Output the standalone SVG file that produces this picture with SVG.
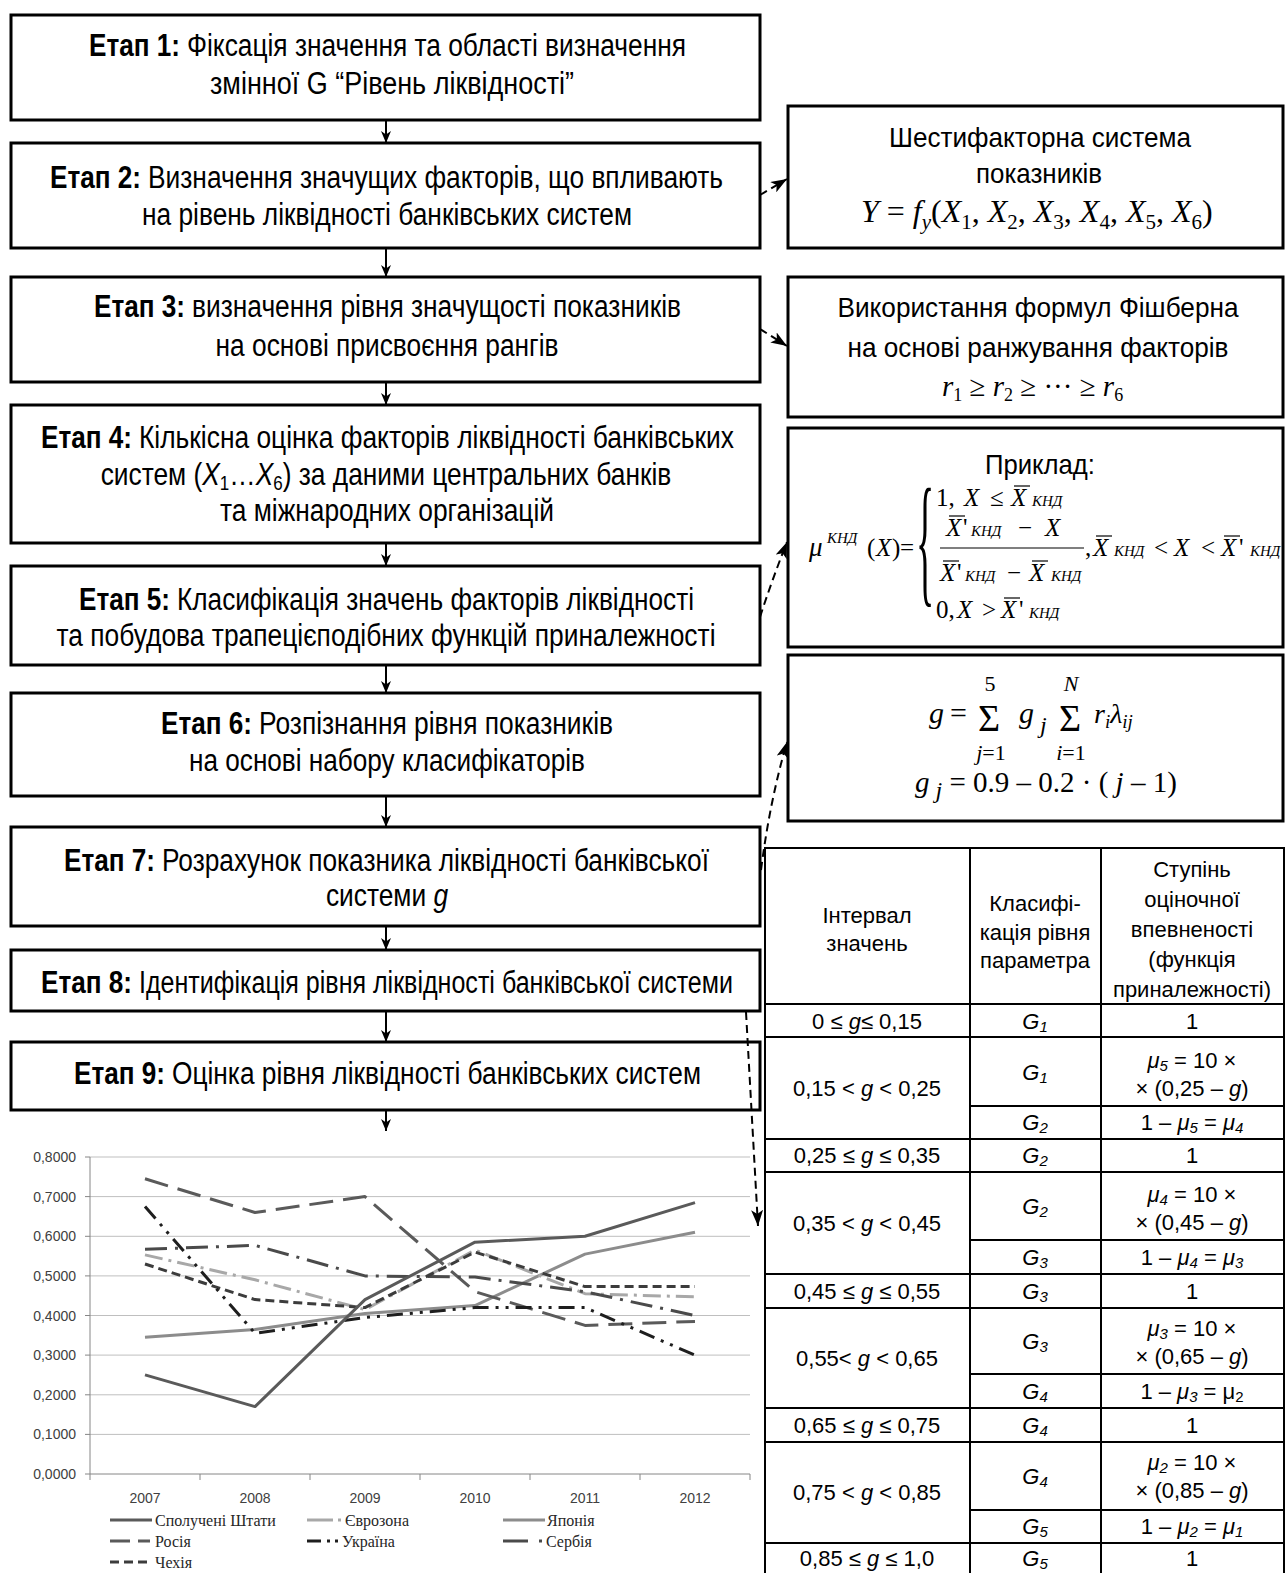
<svg xmlns="http://www.w3.org/2000/svg" width="1288" height="1573" viewBox="0 0 1288 1573">
<defs>
<style>
.box{fill:#fff;stroke:#000;stroke-width:3}
.st{font-family:"Liberation Sans",Arial,sans-serif;font-size:31px;fill:#000}
.sc{text-anchor:middle}
.rt{font-family:"Liberation Sans",Arial,sans-serif;font-size:28px;fill:#000;text-anchor:middle}
.tb{font-family:"Liberation Sans",Arial,sans-serif;font-size:22px;fill:#000;text-anchor:middle}
.m{font-family:"Liberation Serif","Times New Roman",serif;fill:#000}
.b{font-weight:bold}
.i{font-style:italic}
.flow{stroke:#000;stroke-width:2;fill:none;marker-end:url(#ah)}
.dl{stroke:#000;stroke-width:2;fill:none;stroke-dasharray:8 5;marker-end:url(#ahd)}
.grid{stroke:#bfbfbf;stroke-width:1}
.ax{stroke:#868686;stroke-width:1;fill:none}
.al{font-family:"Liberation Sans",Arial,sans-serif;font-size:14px;fill:#404040}
.lg{font-family:"Liberation Serif","Times New Roman",serif;font-size:16px;fill:#262626}
.ser{fill:none;stroke-width:3;stroke-linejoin:round}
.tl{stroke:#000;stroke-width:2}
.ob{stroke:#000;stroke-width:1.2}
</style>
<marker id="ah" markerUnits="userSpaceOnUse" viewBox="0 0 12 10" markerWidth="12" markerHeight="10" refX="12" refY="5" orient="auto"><path d="M0,0 L12,5 L0,10 L3.5,5 z" fill="#000"/></marker>
<marker id="ahd" markerUnits="userSpaceOnUse" viewBox="0 0 16 12" markerWidth="16" markerHeight="12" refX="16" refY="6" orient="auto"><path d="M0,0 L16,6 L0,12 L4,6 z" fill="#000"/></marker>
</defs>
<rect width="1288" height="1573" fill="#fff"/>

<g id="stage1"><rect class="box" x="11" y="15" width="749" height="105"/>
<text class="st b" x="89" y="56" textLength="91" lengthAdjust="spacingAndGlyphs">Етап 1:</text>
<text class="st" x="187" y="56" textLength="499" lengthAdjust="spacingAndGlyphs">Фіксація значення та області визначення</text>
<text class="st sc" x="392" y="94" textLength="364" lengthAdjust="spacingAndGlyphs">змінної G “Рівень ліквідності”</text></g>

<g id="stage2"><rect class="box" x="11" y="143" width="749" height="105"/>
<text class="st b" x="50" y="188" textLength="91" lengthAdjust="spacingAndGlyphs">Етап 2:</text>
<text class="st" x="148" y="188" textLength="575" lengthAdjust="spacingAndGlyphs">Визначення значущих факторів, що впливають</text>
<text class="st sc" x="387" y="225" textLength="490" lengthAdjust="spacingAndGlyphs">на рівень ліквідності банківських систем</text></g>

<g id="stage3"><rect class="box" x="11" y="277" width="749" height="105"/>
<text class="st b" x="94" y="317" textLength="91" lengthAdjust="spacingAndGlyphs">Етап 3:</text>
<text class="st" x="192" y="317" textLength="489" lengthAdjust="spacingAndGlyphs">визначення рівня значущості показників</text>
<text class="st sc" x="387" y="356" textLength="343" lengthAdjust="spacingAndGlyphs">на основі присвоєння рангів</text></g>

<g id="stage4"><rect class="box" x="11" y="405" width="749" height="138"/>
<text class="st b" x="41" y="448" textLength="91" lengthAdjust="spacingAndGlyphs">Етап 4:</text>
<text class="st" x="139" y="448" textLength="595" lengthAdjust="spacingAndGlyphs">Кількісна оцінка факторів ліквідності банківських</text>
<text class="st sc" transform="translate(386,485) scale(0.85,1)">систем (<tspan class="i">X</tspan><tspan font-size="20" dy="5">1</tspan><tspan dy="-5">…</tspan><tspan class="i">X</tspan><tspan font-size="20" dy="5">6</tspan><tspan dy="-5">) за даними центральних банків</tspan></text>
<text class="st sc" x="387" y="521" textLength="334" lengthAdjust="spacingAndGlyphs">та міжнародних організацій</text></g>

<g id="stage5"><rect class="box" x="11" y="566" width="749" height="99"/>
<text class="st b" x="79" y="610" textLength="91" lengthAdjust="spacingAndGlyphs">Етап 5:</text>
<text class="st" x="177" y="610" textLength="517" lengthAdjust="spacingAndGlyphs">Класифікація значень факторів ліквідності</text>
<text class="st sc" x="386" y="646" textLength="659" lengthAdjust="spacingAndGlyphs">та побудова трапецієподібних функцій приналежності</text></g>

<g id="stage6"><rect class="box" x="11" y="693" width="749" height="103"/>
<text class="st b" x="161" y="734" textLength="91" lengthAdjust="spacingAndGlyphs">Етап 6:</text>
<text class="st" x="259" y="734" textLength="354" lengthAdjust="spacingAndGlyphs">Розпізнання рівня показників</text>
<text class="st sc" x="387" y="771" textLength="396" lengthAdjust="spacingAndGlyphs">на основі набору класифікаторів</text></g>

<g id="stage7"><rect class="box" x="11" y="827" width="749" height="99"/>
<text class="st b" x="64" y="871" textLength="91" lengthAdjust="spacingAndGlyphs">Етап 7:</text>
<text class="st" x="162" y="871" textLength="547" lengthAdjust="spacingAndGlyphs">Розрахунок показника ліквідності банківської</text>
<text class="st sc" transform="translate(387,906) scale(0.85,1)">системи <tspan class="i">g</tspan></text></g>

<g id="stage8"><rect class="box" x="11" y="950" width="749" height="61"/>
<text class="st b" x="41" y="993" textLength="91" lengthAdjust="spacingAndGlyphs">Етап 8:</text>
<text class="st" x="139" y="993" textLength="594" lengthAdjust="spacingAndGlyphs">Ідентифікація рівня ліквідності банківської системи</text></g>

<g id="stage9"><rect class="box" x="11" y="1042" width="749" height="68"/>
<text class="st b" x="74" y="1084" textLength="91" lengthAdjust="spacingAndGlyphs">Етап 9:</text>
<text class="st" x="172" y="1084" textLength="529" lengthAdjust="spacingAndGlyphs">Оцінка рівня ліквідності банківських систем</text></g>

<g id="box-factors"><rect class="box" x="788" y="106" width="495" height="142"/>
<text class="rt" x="1040" y="147" textLength="302" lengthAdjust="spacingAndGlyphs">Шестифакторна система</text>
<text class="rt" x="1039" y="183" textLength="126" lengthAdjust="spacingAndGlyphs">показників</text>
<text class="m" x="861" y="222" font-size="32"><tspan class="i">Y</tspan> = <tspan class="i">f</tspan><tspan class="i" font-size="21" dy="7">y</tspan><tspan dy="-7">(</tspan><tspan class="i">X</tspan><tspan font-size="21" dy="7">1</tspan><tspan dy="-7">, </tspan><tspan class="i">X</tspan><tspan font-size="21" dy="7">2</tspan><tspan dy="-7">, </tspan><tspan class="i">X</tspan><tspan font-size="21" dy="7">3</tspan><tspan dy="-7">, </tspan><tspan class="i">X</tspan><tspan font-size="21" dy="7">4</tspan><tspan dy="-7">, </tspan><tspan class="i">X</tspan><tspan font-size="21" dy="7">5</tspan><tspan dy="-7">, </tspan><tspan class="i">X</tspan><tspan font-size="21" dy="7">6</tspan><tspan dy="-7">)</tspan></text></g>

<g id="box-fishburn"><rect class="box" x="788" y="277" width="495" height="140"/>
<text class="rt" x="1038" y="317" textLength="401" lengthAdjust="spacingAndGlyphs">Використання формул Фішберна</text>
<text class="rt" x="1038" y="357" textLength="381" lengthAdjust="spacingAndGlyphs">на основі ранжування факторів</text>
<text class="m" x="942" y="396" font-size="29" fill="#333"><tspan class="i">r</tspan><tspan font-size="18" dy="5">1</tspan><tspan dy="-5"> ≥ </tspan><tspan class="i">r</tspan><tspan font-size="18" dy="5">2</tspan><tspan dy="-5"> ≥ ··· ≥ </tspan><tspan class="i">r</tspan><tspan font-size="18" dy="5">6</tspan></text></g>

<g id="box-example"><rect class="box" x="788" y="428" width="495" height="219"/>
<text class="rt" x="1040" y="474" textLength="110" lengthAdjust="spacingAndGlyphs">Приклад:</text>
<text class="m i" x="809" y="556" font-size="27">μ</text>
<text class="m i" x="827" y="543" font-size="15">КНД</text>
<text class="m" font-size="25" y="556"><tspan x="867">(</tspan><tspan x="876" class="i">X</tspan><tspan x="892">)</tspan><tspan x="900">=</tspan></text>
<text class="m" x="0" y="0" font-size="38" transform="translate(916,588) scale(1,3.8)">{</text>
<text class="m" font-size="25" y="506"><tspan x="936">1,</tspan><tspan x="964" class="i">X</tspan><tspan x="990">≤</tspan><tspan x="1011" class="i">X</tspan><tspan x="1032" class="i" font-size="15">КНД</tspan></text>
<line class="ob" x1="1014" y1="486" x2="1030" y2="486"/>
<text class="m" font-size="25" y="536"><tspan x="946" class="i">X</tspan><tspan x="963">'</tspan><tspan x="971" class="i" font-size="15">КНД</tspan><tspan x="1018">−</tspan><tspan x="1045" class="i">X</tspan></text>
<line class="ob" x1="949" y1="516" x2="965" y2="516"/>
<line class="ob" x1="940" y1="548" x2="1084" y2="548"/>
<text class="m" font-size="25" y="581"><tspan x="940" class="i">X</tspan><tspan x="957">'</tspan><tspan x="965" class="i" font-size="15">КНД</tspan><tspan x="1007">−</tspan><tspan x="1029" class="i">X</tspan><tspan x="1051" class="i" font-size="15">КНД</tspan></text>
<line class="ob" x1="943" y1="561" x2="959" y2="561"/>
<line class="ob" x1="1032" y1="561" x2="1048" y2="561"/>
<text class="m" font-size="25" y="556"><tspan x="1085">,</tspan><tspan x="1093" class="i">X</tspan><tspan x="1114" class="i" font-size="15">КНД</tspan><tspan x="1154">&lt;</tspan><tspan x="1174" class="i">X</tspan><tspan x="1201">&lt;</tspan><tspan x="1221" class="i">X</tspan><tspan x="1239">'</tspan><tspan x="1250" class="i" font-size="15">КНД</tspan></text>
<line class="ob" x1="1096" y1="536" x2="1112" y2="536"/>
<line class="ob" x1="1224" y1="536" x2="1240" y2="536"/>
<text class="m" font-size="25" y="618"><tspan x="936">0,</tspan><tspan x="957" class="i">X</tspan><tspan x="982">&gt;</tspan><tspan x="1001" class="i">X</tspan><tspan x="1019">'</tspan><tspan x="1029" class="i" font-size="15">КНД</tspan></text>
<line class="ob" x1="1004" y1="598" x2="1020" y2="598"/></g>

<g id="box-formula"><rect class="box" x="788" y="655" width="495" height="166"/>
<text class="m i" x="929" y="723" font-size="30">g</text>
<text class="m" x="950" y="723" font-size="30">=</text>
<text class="m" x="978" y="731" font-size="38">Σ</text>
<text class="m" x="990" y="691" font-size="22" text-anchor="middle">5</text>
<text class="m" x="991" y="760" font-size="22" text-anchor="middle"><tspan class="i">j</tspan>=1</text>
<text class="m i" x="1019" y="723" font-size="30">g</text>
<text class="m i" x="1040" y="733" font-size="24">j</text>
<text class="m" x="1059" y="731" font-size="38">Σ</text>
<text class="m i" x="1071" y="691" font-size="22" text-anchor="middle">N</text>
<text class="m" x="1071" y="760" font-size="22" text-anchor="middle"><tspan class="i">i</tspan>=1</text>
<text class="m i" x="1094" y="723" font-size="28">r<tspan font-size="19" dy="5">i</tspan><tspan dy="-5">λ</tspan><tspan font-size="19" dy="5">ij</tspan></text>
<text class="m" x="915" y="792" font-size="29"><tspan class="i">g</tspan><tspan class="i" font-size="24" dy="6"> j</tspan><tspan dy="-6"> = 0.9 – 0.2 · (</tspan><tspan class="i"> j</tspan> – 1)</text></g>

<g id="table">
<rect x="765" y="848" width="519" height="730" fill="#fff" stroke="#000" stroke-width="2"/>
<line class="tl" x1="970" y1="848" x2="970" y2="1578"/>
<line class="tl" x1="1101" y1="848" x2="1101" y2="1578"/>
<line class="tl" x1="765" y1="1004" x2="1284" y2="1004"/>
<line class="tl" x1="765" y1="1037" x2="1284" y2="1037"/>
<line class="tl" x1="970" y1="1106" x2="1284" y2="1106"/>
<line class="tl" x1="765" y1="1139" x2="1284" y2="1139"/>
<line class="tl" x1="765" y1="1172" x2="1284" y2="1172"/>
<line class="tl" x1="970" y1="1240" x2="1284" y2="1240"/>
<line class="tl" x1="765" y1="1274" x2="1284" y2="1274"/>
<line class="tl" x1="765" y1="1308" x2="1284" y2="1308"/>
<line class="tl" x1="970" y1="1374" x2="1284" y2="1374"/>
<line class="tl" x1="765" y1="1408" x2="1284" y2="1408"/>
<line class="tl" x1="765" y1="1442" x2="1284" y2="1442"/>
<line class="tl" x1="970" y1="1510" x2="1284" y2="1510"/>
<line class="tl" x1="765" y1="1543" x2="1284" y2="1543"/>
<text class="tb" x="867" y="923">Інтервал</text>
<text class="tb" x="867" y="951">значень</text>
<text class="tb" x="1035" y="911">Класифі-</text>
<text class="tb" x="1035" y="940">кація рівня</text>
<text class="tb" x="1035" y="968">параметра</text>
<text class="tb" x="1192" y="877">Ступінь</text>
<text class="tb" x="1192" y="907">оціночної</text>
<text class="tb" x="1192" y="937">впевненості</text>
<text class="tb" x="1192" y="967">(функція</text>
<text class="tb" x="1192" y="997">приналежності)</text>

<text class="tb" x="867" y="1029">0 ≤ <tspan class="i">g</tspan>≤ 0,15</text>
<text class="tb i" x="1035" y="1029">G<tspan font-size="15" dy="3">1</tspan></text>
<text class="tb" x="1192" y="1029">1</text>

<text class="tb" x="867" y="1096">0,15 &lt; <tspan class="i">g</tspan> &lt; 0,25</text>
<text class="tb i" x="1035" y="1080">G<tspan font-size="15" dy="3">1</tspan></text>
<text class="tb" x="1192" y="1068"><tspan class="i">μ</tspan><tspan class="i" font-size="15" dy="3">5</tspan><tspan dy="-3"> = 10 ×</tspan></text>
<text class="tb" x="1192" y="1096">× (0,25 – <tspan class="i">g</tspan>)</text>
<text class="tb i" x="1035" y="1130">G<tspan font-size="15" dy="3">2</tspan></text>
<text class="tb" x="1192" y="1130">1 – <tspan class="i">μ</tspan><tspan class="i" font-size="15" dy="3">5</tspan><tspan dy="-3"> = </tspan><tspan class="i">μ</tspan><tspan class="i" font-size="15" dy="3">4</tspan></text>

<text class="tb" x="867" y="1163">0,25 ≤ <tspan class="i">g</tspan> ≤ 0,35</text>
<text class="tb i" x="1035" y="1163">G<tspan font-size="15" dy="3">2</tspan></text>
<text class="tb" x="1192" y="1163">1</text>

<text class="tb" x="867" y="1231">0,35 &lt; <tspan class="i">g</tspan> &lt; 0,45</text>
<text class="tb i" x="1035" y="1214">G<tspan font-size="15" dy="3">2</tspan></text>
<text class="tb" x="1192" y="1202"><tspan class="i">μ</tspan><tspan class="i" font-size="15" dy="3">4</tspan><tspan dy="-3"> = 10 ×</tspan></text>
<text class="tb" x="1192" y="1230">× (0,45 – <tspan class="i">g</tspan>)</text>
<text class="tb i" x="1035" y="1265">G<tspan font-size="15" dy="3">3</tspan></text>
<text class="tb" x="1192" y="1265">1 – <tspan class="i">μ</tspan><tspan class="i" font-size="15" dy="3">4</tspan><tspan dy="-3"> = </tspan><tspan class="i">μ</tspan><tspan class="i" font-size="15" dy="3">3</tspan></text>

<text class="tb" x="867" y="1299">0,45 ≤ <tspan class="i">g</tspan> ≤ 0,55</text>
<text class="tb i" x="1035" y="1299">G<tspan font-size="15" dy="3">3</tspan></text>
<text class="tb" x="1192" y="1299">1</text>

<text class="tb" x="867" y="1366">0,55&lt; <tspan class="i">g</tspan> &lt; 0,65</text>
<text class="tb i" x="1035" y="1349">G<tspan font-size="15" dy="3">3</tspan></text>
<text class="tb" x="1192" y="1336"><tspan class="i">μ</tspan><tspan class="i" font-size="15" dy="3">3</tspan><tspan dy="-3"> = 10 ×</tspan></text>
<text class="tb" x="1192" y="1364">× (0,65 – <tspan class="i">g</tspan>)</text>
<text class="tb i" x="1035" y="1399">G<tspan font-size="15" dy="3">4</tspan></text>
<text class="tb" x="1192" y="1399">1 – <tspan class="i">μ</tspan><tspan class="i" font-size="15" dy="3">3</tspan><tspan dy="-3"> = μ</tspan><tspan font-size="15" dy="3">2</tspan></text>

<text class="tb" x="867" y="1433">0,65 ≤ <tspan class="i">g</tspan> ≤ 0,75</text>
<text class="tb i" x="1035" y="1433">G<tspan font-size="15" dy="3">4</tspan></text>
<text class="tb" x="1192" y="1433">1</text>

<text class="tb" x="867" y="1500">0,75 &lt; <tspan class="i">g</tspan> &lt; 0,85</text>
<text class="tb i" x="1035" y="1484">G<tspan font-size="15" dy="3">4</tspan></text>
<text class="tb" x="1192" y="1470"><tspan class="i">μ</tspan><tspan class="i" font-size="15" dy="3">2</tspan><tspan dy="-3"> = 10 ×</tspan></text>
<text class="tb" x="1192" y="1498">× (0,85 – <tspan class="i">g</tspan>)</text>
<text class="tb i" x="1035" y="1534">G<tspan font-size="15" dy="3">5</tspan></text>
<text class="tb" x="1192" y="1534">1 – <tspan class="i">μ</tspan><tspan class="i" font-size="15" dy="3">2</tspan><tspan dy="-3"> = </tspan><tspan class="i">μ</tspan><tspan class="i" font-size="15" dy="3">1</tspan></text>

<text class="tb" x="867" y="1566">0,85 ≤ <tspan class="i">g</tspan> ≤ 1,0</text>
<text class="tb i" x="1035" y="1566">G<tspan font-size="15" dy="3">5</tspan></text>
<text class="tb" x="1192" y="1566">1</text>
</g>

<g id="chart">
<line class="grid" x1="90" y1="1157" x2="750" y2="1157"/>
<line class="grid" x1="90" y1="1196.6" x2="750" y2="1196.6"/>
<line class="grid" x1="90" y1="1236.3" x2="750" y2="1236.3"/>
<line class="grid" x1="90" y1="1275.9" x2="750" y2="1275.9"/>
<line class="grid" x1="90" y1="1315.5" x2="750" y2="1315.5"/>
<line class="grid" x1="90" y1="1355.1" x2="750" y2="1355.1"/>
<line class="grid" x1="90" y1="1394.8" x2="750" y2="1394.8"/>
<line class="grid" x1="90" y1="1434.4" x2="750" y2="1434.4"/>
<path class="ax" d="M90,1157 V1474 H750 M85,1157 H90 M85,1196.6 H90 M85,1236.3 H90 M85,1275.9 H90 M85,1315.5 H90 M85,1355.1 H90 M85,1394.8 H90 M85,1434.4 H90 M85,1474 H90 M90,1474 V1480 M200,1474 V1480 M310,1474 V1480 M420,1474 V1480 M530,1474 V1480 M640,1474 V1480 M750,1474 V1480"/>
<g class="al" text-anchor="end">
<text x="76" y="1162">0,8000</text>
<text x="76" y="1201.6">0,7000</text>
<text x="76" y="1241">0,6000</text>
<text x="76" y="1281">0,5000</text>
<text x="76" y="1320.5">0,4000</text>
<text x="76" y="1360">0,3000</text>
<text x="76" y="1400">0,2000</text>
<text x="76" y="1439">0,1000</text>
<text x="76" y="1479">0,0000</text>
</g>
<g class="al" text-anchor="middle">
<text x="145" y="1503">2007</text>
<text x="255" y="1503">2008</text>
<text x="365" y="1503">2009</text>
<text x="475" y="1503">2010</text>
<text x="585" y="1503">2011</text>
<text x="695" y="1503">2012</text>
</g>
<polyline class="ser" stroke="#8c8c8c" points="145,1337.3 255,1329.4 365,1313.5 475,1305.6 585,1254.1 695,1232.3"/>
<polyline class="ser" stroke="#a8a8a8" stroke-dasharray="18 6 3 6" points="145,1254.9 255,1279.8 365,1309.6 475,1250.1 585,1293.7 695,1296.9"/>
<polyline class="ser" stroke="#5a5a5a" stroke-dasharray="24 10" points="145,1178.8 255,1212.5 365,1196.6 475,1291.7 585,1325.4 695,1321.4"/>
<polyline class="ser" stroke="#4a4a4a" stroke-dasharray="22 8 3 8" points="145,1249.3 255,1245.4 365,1275.9 475,1277.1 585,1291.7 695,1315.5"/>
<polyline class="ser" stroke="#3c3c3c" stroke-dasharray="9 5" points="145,1264 255,1299.6 365,1307.6 475,1252.1 585,1286.6 695,1286.6"/>
<polyline class="ser" stroke="#1e1e1e" stroke-dasharray="16 7 3 7 3 7" points="145,1206.5 255,1333.3 365,1317.5 475,1307.6 585,1307.6 695,1355.1"/>
<polyline class="ser" stroke="#5a5a5a" points="145,1374.9 255,1406.6 365,1299.6 475,1242.2 585,1236.3 695,1202.6"/>
<line x1="110" y1="1520" x2="152" y2="1520" stroke="#5a5a5a" stroke-width="3"/>
<line x1="307" y1="1520" x2="333" y2="1520" stroke="#a8a8a8" stroke-width="3"/>
<line x1="338" y1="1520" x2="341" y2="1520" stroke="#a8a8a8" stroke-width="3"/>
<line x1="503" y1="1520" x2="545" y2="1520" stroke="#8c8c8c" stroke-width="3"/>
<line x1="110" y1="1541" x2="150" y2="1541" stroke="#5a5a5a" stroke-width="3" stroke-dasharray="20 8"/>
<line x1="307" y1="1541" x2="321" y2="1541" stroke="#1e1e1e" stroke-width="3"/>
<line x1="327" y1="1541" x2="330" y2="1541" stroke="#1e1e1e" stroke-width="3"/>
<line x1="335" y1="1541" x2="338" y2="1541" stroke="#1e1e1e" stroke-width="3"/>
<line x1="503" y1="1541" x2="528" y2="1541" stroke="#4a4a4a" stroke-width="3"/>
<line x1="539" y1="1541" x2="542" y2="1541" stroke="#4a4a4a" stroke-width="3"/>
<line x1="110" y1="1562" x2="150" y2="1562" stroke="#3c3c3c" stroke-width="3" stroke-dasharray="9 5"/>
<text class="lg" x="155" y="1526">Сполучені Штати</text>
<text class="lg" x="345" y="1526">Єврозона</text>
<text class="lg" x="547" y="1526">Японія</text>
<text class="lg" x="155" y="1547">Росія</text>
<text class="lg" x="342" y="1547">Україна</text>
<text class="lg" x="546" y="1547">Сербія</text>
<text class="lg" x="155" y="1568">Чехія</text>
</g>

<g id="connectors">
<line class="flow" x1="386" y1="120" x2="386" y2="143"/>
<line class="flow" x1="386" y1="248" x2="386" y2="277"/>
<line class="flow" x1="386" y1="382" x2="386" y2="405"/>
<line class="flow" x1="386" y1="543" x2="386" y2="566"/>
<line class="flow" x1="386" y1="665" x2="386" y2="693"/>
<line class="flow" x1="386" y1="796" x2="386" y2="827"/>
<line class="flow" x1="386" y1="926" x2="386" y2="950"/>
<line class="flow" x1="386" y1="1011" x2="386" y2="1042"/>
<line class="flow" x1="386" y1="1110" x2="386" y2="1131"/>
<path class="dl" d="M760,195 L787,179"/>
<path class="dl" d="M760,329 L787,346"/>
<path class="dl" d="M760,617 Q772,580 787,542"/>
<path class="dl" d="M761,870 Q770,800 787,742"/>
<path class="dl" d="M746,1012 L758,1226"/>
</g>
</svg>
